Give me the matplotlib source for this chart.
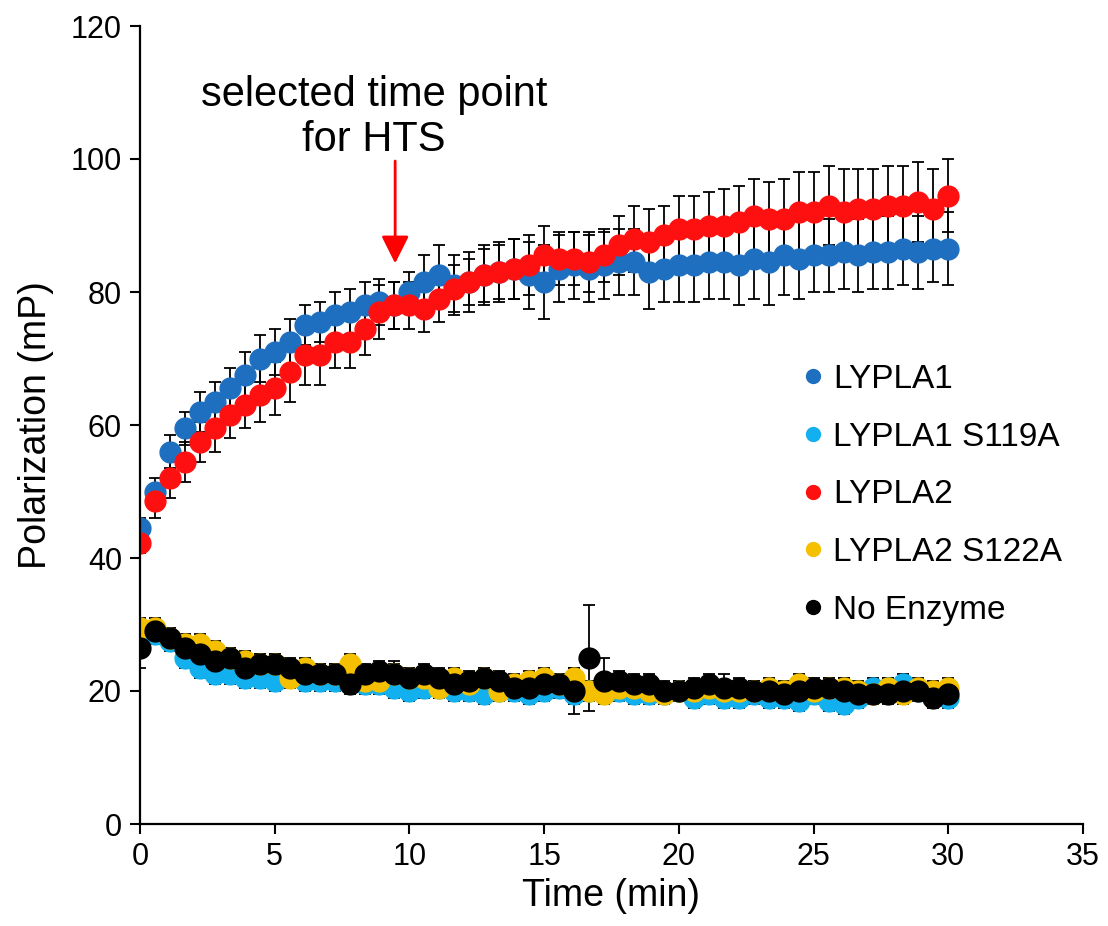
"""Fluorescence polarization time course for LYPLA1/LYPLA2 and mutants"""
import numpy as np
import matplotlib
matplotlib.use("Agg")
import matplotlib.pyplot as plt
from matplotlib.lines import Line2D

plt.rcParams['font.family'] = ['Liberation Sans', 'DejaVu Sans']

# reads every ~33 s over 30 min
time_min = np.linspace(0, 30, 55)

lypla1 = [44.5, 50, 56, 59.5, 62, 63.5, 65.5, 67.5, 70, 71,
          72.5, 75, 75.5, 76.5, 77, 78, 78.5, 78, 80, 81.5,
          82.5, 81, 81.5, 82.5, 83, 83.5, 82.5, 81.5, 83.5, 84,
          83.5, 84, 84.5, 84.5, 83, 83.5, 84, 84, 84.5, 84.5,
          84, 85, 84.5, 85.5, 85, 85.5, 85.5, 86, 85.5, 86,
          86, 86.5, 86, 86.5, 86.5]
lypla1_err = [1.5, 2, 2.5, 2.5, 3, 3, 3, 3.5, 3.5, 3.5,
              3.5, 3, 3, 3.5, 3.5, 3.5, 3.5, 3.5, 3, 4,
              4.5, 4.5, 4.5, 4.5, 4.5, 4.5, 5, 5.5, 5, 5,
              5, 5, 5, 5, 5.5, 5, 5.5, 5.5, 5.5, 5.5,
              6, 6, 6.5, 6, 6, 5.5, 5.5, 5.5, 5.5, 5.5,
              5.5, 5.5, 5.5, 5, 5.5]

lypla2 = [42.3, 48.5, 52, 54.5, 57.5, 59.5, 61.5, 63, 64.5, 65.5,
          68, 70.5, 70.5, 72.5, 72.5, 74.5, 77, 78, 78, 77.5,
          79, 80.5, 81.5, 82.5, 83, 83.5, 84, 85.5, 85, 85,
          84.5, 85.5, 87, 88, 87.5, 88.5, 89.5, 89.5, 90, 90,
          90.5, 91.5, 91, 91, 92, 92, 93, 92, 92.5, 92.5,
          93, 93, 93.5, 92.5, 94.5]
lypla2_err = [1.5, 2.5, 3, 3, 3, 3.5, 3.5, 3.5, 4, 4,
              4.5, 4.5, 4.5, 4, 4, 4, 4, 3.5, 3.5, 3.5,
              3.5, 3.5, 3.5, 4, 4, 4.5, 4.5, 4.5, 4, 4,
              4.5, 4, 4.5, 5, 5, 4.5, 5, 5, 5, 5.5,
              5.5, 5.5, 5.5, 6, 6, 6, 6, 6.5, 6, 6,
              6, 6, 6, 6, 5.5]

lypla1_s119a = [29, 28.5, 27.5, 25, 23.5, 22.5, 22.5, 22, 22, 21.5,
                22.5, 21.5, 21.5, 21.5, 21.5, 21, 21, 20.5, 20, 20.5,
                20.5, 20, 20, 19.5, 20, 20, 19.5, 20, 20.5, 19.5,
                20, 21, 20, 19.5, 19.5, 19.5, 20, 19, 19.5, 19,
                19, 19.5, 19, 19, 18.5, 19.5, 18.5, 18, 19, 20.5,
                20.5, 21, 20, 19.5, 19]
lypla2_s122a = [29.5, 29.5, 28, 27, 27, 26, 25, 24.5, 24, 24,
                22, 23.5, 22.5, 22.5, 24, 21.5, 21.5, 22.5, 22, 22,
                20.5, 22, 21, 22, 20, 21, 21.5, 22, 21, 22,
                20, 19.5, 20.5, 20.5, 20, 19.5, 20, 20, 20.5, 20,
                20, 20, 20.5, 20, 21, 20, 20.5, 20.5, 20, 19.5,
                20.5, 19.5, 20.5, 20, 20.5]
no_enzyme = [26.5, 29, 28, 26.5, 25.5, 24.5, 25, 23.5, 24, 24,
             23.5, 22.5, 22.5, 22.5, 21, 22.5, 23, 22.5, 22, 22.5,
             22, 21, 21.5, 22, 21.5, 20.5, 20.5, 21, 21, 20,
             25, 21.5, 21.5, 21, 21, 20, 20, 20.5, 21, 20.5,
             20.5, 20, 20, 19.5, 20, 20.5, 20.5, 20, 19.5, 19.5,
             19.5, 20, 20, 19, 19.5]
no_enzyme_err = [3, 1.5, 1.5, 1.5, 1.5, 1.5, 1.5, 1.5, 1.5, 1.5,
                 1.5, 1.5, 1.5, 1.5, 1.5, 1.5, 1.5, 2, 1.5, 1.5,
                 1.5, 1.5, 1.5, 1.5, 1.5, 1.5, 1.5, 1.5, 1.5, 3.5,
                 8, 3.5, 1.5, 1.5, 1.5, 1.5, 1.5, 1.5, 1.5, 2,
                 1.5, 1.5, 1.5, 1.5, 1.5, 1.5, 1.5, 2, 1.5, 1.5,
                 1.5, 1.5, 1.5, 1.5, 1.5]
mutant_err = 1.5

labels = ["LYPLA1", "LYPLA1 S119A", "LYPLA2", "LYPLA2 S122A", "No Enzyme"]
colors = ["#1f6fc0", "#12b0ee", "#ff1010", "#f5c000", "#000000"]


fig = plt.figure(figsize=(11.08, 9.26), dpi=100)
ax = fig.add_axes([140 / 1108, 102 / 926, 943 / 1108, 798 / 926])

series = [(lypla1, lypla1_err), (lypla1_s119a, mutant_err), (lypla2, lypla2_err),
          (lypla2_s122a, mutant_err), (no_enzyme, no_enzyme_err)]
for (vals, err), col, lab in zip(series, colors, labels):
    ax.errorbar(time_min, vals, yerr=err, fmt='o', color=col, ms=15,
                ecolor='black', elinewidth=1.3, capsize=4.5, capthick=1.3, label=lab)

ax.set_xlim(0, 35)
ax.set_ylim(0, 120)
ax.set_xticks(range(0, 36, 5))
ax.set_yticks(range(0, 121, 20))
for side in ['top', 'right']:
    ax.spines[side].set_visible(False)
for side in ['left', 'bottom']:
    ax.spines[side].set_linewidth(1.6)
ax.tick_params(direction='out', length=7, width=1.5, labelsize=22, pad=6)
ax.set_xlabel("Time (min)", fontsize=27, labelpad=4)
ax.set_ylabel("Polarization (mP)", fontsize=27, labelpad=12)

ax.text(8.69, 112.6, "selected time point\nfor HTS", ha='center', va='top',
        fontsize=30, linespacing=1.15)
ax.annotate('', xy=(9.47, 84.3), xytext=(9.47, 99.7),
            arrowprops=dict(arrowstyle='-|>,head_length=0.6,head_width=0.3',
                            color='red', lw=2, mutation_scale=28,
                            shrinkA=0, shrinkB=0))

handles = [Line2D([], [], marker='o', ls='none', color=c, ms=10) for c in colors]
ax.legend(handles, labels, loc='upper left', bbox_to_anchor=(803 / 1108, 1 - 364 / 926),
          bbox_transform=fig.transFigure, frameon=False, fontsize=24,
          handlelength=0.6, handletextpad=0.3, labelspacing=0.8, borderpad=0,
          borderaxespad=0)

fig.savefig("out.png", dpi=100)
